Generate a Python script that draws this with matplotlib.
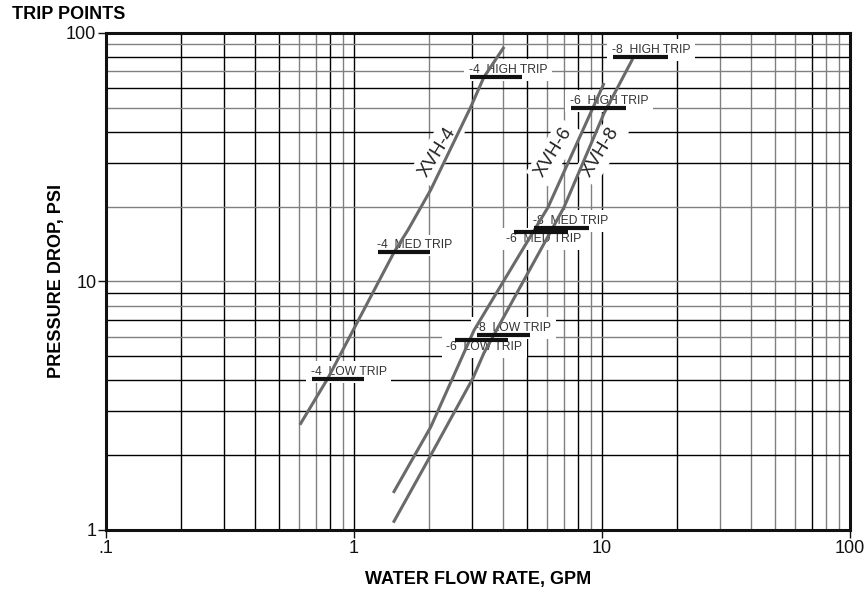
import numpy as np
import matplotlib.pyplot as plt

plt.rcParams['font.family'] = ['Liberation Sans', 'DejaVu Sans']

# pressure drop curves (GPM, PSI)
xvh4_gpm = [0.605, 0.786, 1.45, 1.65, 2.04, 2.96, 3.34, 4.03]
xvh4_psi = [2.65, 4.09, 13.1, 16.1, 23.4, 50.5, 66.4, 87.9]
xvh6_gpm = [1.44, 2.04, 3.05, 6.06, 10.2]
xvh6_psi = [1.41, 2.6, 6.37, 19.9, 62.9]
xvh8_gpm = [1.44, 2.04, 3.02, 3.34, 7.03, 10.2, 13.3]
xvh8_psi = [1.07, 2.0, 4.09, 5.15, 19.9, 47.6, 78.7]

curve_names = ['XVH-4', 'XVH-6', 'XVH-8']
curve_label_x = [2.16, 6.4, 9.9]
curve_label_y = [33.2, 33.2, 33.2]

# trip points: label, flow start, flow end, pressure, label above bar?
trip_labels = ['-4  HIGH TRIP', '-8  HIGH TRIP', '-6  HIGH TRIP', '-8  MED TRIP',
               '-6  MED TRIP', '-4  MED TRIP', '-8  LOW TRIP', '-6  LOW TRIP', '-4  LOW TRIP']
trip_x0 = [2.94, 11.1, 7.5, 5.32, 4.42, 1.25, 3.13, 2.55, 0.677]
trip_x1 = [4.76, 18.5, 12.5, 8.88, 7.3, 2.02, 5.12, 4.17, 1.10]
trip_psi = [66.5, 80.0, 49.9, 16.4, 15.8, 13.1, 6.09, 5.82, 4.05]
trip_above = [True, True, True, True, False, True, True, False, True]

x_ticks = [0.1, 1, 10, 100]
x_ticklabels = ['.1', '1', '10', '100']
y_ticks = [1, 10, 100]
y_ticklabels = ['1', '10', '100']

fig = plt.figure(figsize=(8.66, 5.90), dpi=100)
ax = fig.add_axes([0.1224, 0.1017, 0.8591, 0.8424])
ax.set_xscale('log')
ax.set_yscale('log')
ax.set_xlim(0.1, 100)
ax.set_ylim(1, 100)

gray = '#808080'
# vertical grid, colour pattern per decade
xgray = {0.1: [6, 7, 9], 1: [2, 4, 6, 7, 9], 10: [3, 4, 5, 6, 8, 9]}
for dec in [0.1, 1, 10]:
    for m in range(1, 10):
        if dec == 0.1 and m == 1:
            continue
        c = gray if m in xgray[dec] else 'black'
        ax.axvline(dec * m, color=c, lw=1.0, zorder=1)
ygray = {1: [6, 8], 10: [2, 5, 7, 9]}
for dec in [1, 10]:
    for m in range(1, 10):
        if dec == 1 and m == 1:
            continue
        c = gray if (m in ygray[dec] or m == 1) else 'black'
        ax.axhline(dec * m, color=c, lw=1.0, zorder=1)

curve_color = '#6a6a6a'
for gx, gy in [(xvh4_gpm, xvh4_psi), (xvh6_gpm, xvh6_psi), (xvh8_gpm, xvh8_psi)]:
    ax.plot(gx, gy, color=curve_color, lw=2.2, zorder=4, solid_capstyle='butt')

for name, lx, ly in zip(curve_names, curve_label_x, curve_label_y):
    ax.text(lx, ly, name, rotation=58, fontsize=13.5, color='#222222', ha='center', va='center',
            rotation_mode='anchor', zorder=3,
            bbox=dict(facecolor='white', edgecolor='none', boxstyle='square,pad=0.25'))

for lab, x0, x1, p, above in zip(trip_labels, trip_x0, trip_x1, trip_psi, trip_above):
    ax.plot([x0, x1], [p, p], color='#111111', lw=3.0, zorder=5, solid_capstyle='butt')
    off = (-1, 5) if above else (-6, -5)
    ax.annotate(lab, (x0, p), xytext=off, textcoords='offset points', fontsize=8.7,
                color='#333333', ha='left', va='center', zorder=3,
                bbox=dict(facecolor='white', edgecolor='none', boxstyle='square,pad=0.4'))

for s in ax.spines.values():
    s.set_linewidth(2.2)
    s.set_color('#111111')
    s.set_zorder(6)

ax.set_xticks(x_ticks)
ax.set_xticklabels(x_ticklabels)
ax.set_yticks(y_ticks)
ax.set_yticklabels(y_ticklabels)
ax.minorticks_off()
ax.tick_params(axis='both', which='major', direction='out', length=6, width=1,
               labelsize=13, pad=1, colors='#111111')

ax.set_xlabel('WATER FLOW RATE, GPM', fontsize=13, fontweight='bold',
              family=['Liberation Sans Narrow', 'Liberation Sans'], labelpad=10)
ax.set_ylabel('PRESSURE DROP, PSI', fontsize=13, fontweight='bold', labelpad=1)
fig.text(0.014, 0.975, 'TRIP POINTS', fontsize=13, fontweight='bold', ha='left', va='center')

fig.savefig('out.png', dpi=100, facecolor='white')
